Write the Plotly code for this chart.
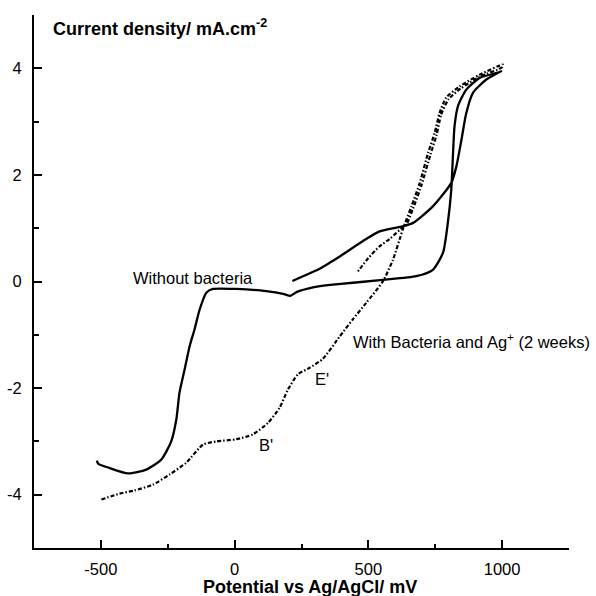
import plotly.graph_objects as go

# Cyclic polarisation curve without bacteria (forward sweep, then return sweep)
no_bact_v = [-515, -510, -467, -399, -330, -274, -237, -218, -206, -187, -168, -150,
             -131, -106, -81, 6, 118, 181, 208, 231, 293, 367, 554, 679, 741, 779,
             797, 810, 816, 822, 835, 866, 916, 991,
             997, 941, 891, 866, 848, 829, 810, 741, 667, 623, 542, 480, 393, 355, 318,
             243, 216]
no_bact_i = [-3.36, -3.42, -3.50, -3.60, -3.53, -3.34, -3.00, -2.59, -2.08, -1.65, -1.21, -0.90,
             -0.53, -0.21, -0.14, -0.14, -0.18, -0.23, -0.27, -0.20, -0.11, -0.06, 0.03, 0.10, 0.22, 0.54,
             1.10, 1.73, 2.35, 2.91, 3.29, 3.60, 3.82, 3.93,
             3.95, 3.79, 3.54, 3.16, 2.66, 2.16, 1.85, 1.41, 1.10, 1.03, 0.94, 0.76, 0.47, 0.35, 0.24,
             0.07, 0.01]

# Curve with bacteria and Ag+ after 2 weeks (forward sweep, then return sweep)
bact_v = [-498, -430, -374, -305, -243, -181, -118, -68, 6, 68, 125, 168, 199, 237, 280,
          330, 393, 442, 492, 554, 592, 629, 661, 692, 723, 748, 766, 791, 841, 916, 1003,
          1000, 916, 845, 800, 772, 755, 732, 700, 668, 640, 629, 580, 542, 500, 461]
bact_i = [-4.09, -3.98, -3.92, -3.81, -3.62, -3.40, -3.06, -3.00, -2.96, -2.87, -2.65, -2.37, -2.03, -1.74, -1.62,
          -1.45, -1.03, -0.71, -0.40, 0.00, 0.41, 0.98, 1.41, 1.85, 2.41, 2.79, 3.16, 3.45, 3.66, 3.88, 4.07,
          4.02, 3.84, 3.62, 3.42, 3.13, 2.75, 2.38, 1.83, 1.38, 1.05, 1.02, 0.80, 0.66, 0.44, 0.19]

x_ticks = [-500, 0, 500, 1000]
y_ticks = [-4, -2, 0, 2, 4]

FONT = "Liberation Sans, Arial, Helvetica, sans-serif"

fig = go.Figure()
fig.add_trace(go.Scatter(x=no_bact_v, y=no_bact_i, mode="lines",
                         line=dict(color="black", width=2.3, shape="spline", smoothing=0.6),
                         showlegend=False, hoverinfo="skip"))
fig.add_trace(go.Scatter(x=bact_v, y=bact_i, mode="lines",
                         line=dict(color="black", width=2.2, dash="4px,2px,1.5px,2px",
                                   shape="spline", smoothing=0.6),
                         showlegend=False, hoverinfo="skip"))

labels = [
    dict(x=-388, y=0.06, text="Without bacteria", xanchor="left"),
    dict(x=116, y=-3.06, text="B'", xanchor="center"),
    dict(x=326, y=-1.82, text="E'", xanchor="center"),
    dict(x=434, y=-1.12, text="With Bacteria and Ag<sup>+</sup> (2 weeks)", xanchor="left"),
]
for a in labels:
    fig.add_annotation(x=a["x"], y=a["y"], xref="x", yref="y", text=a["text"],
                       xanchor=a["xanchor"], yanchor="middle", showarrow=False,
                       font=dict(family=FONT, size=16.5, color="black"))

# Axis titles
fig.add_annotation(x=0.032, y=0.977, xref="paper", yref="paper",
                   text="<b>Current density/ mA.cm<sup>-2</sup></b>",
                   xanchor="left", yanchor="middle", showarrow=False,
                   font=dict(family=FONT, size=18, color="black"))
fig.add_annotation(x=0.516, y=-0.073, xref="paper", yref="paper",
                   text="<b>Potential vs Ag/AgCl/ mV</b>",
                   xanchor="center", yanchor="middle", showarrow=False,
                   font=dict(family=FONT, size=18, color="black"))

fig.update_xaxes(range=[-750, 1250], tickmode="array", tickvals=x_ticks,
                 ticktext=[str(t) for t in x_ticks], automargin=False,
                 ticks="inside", ticklen=8, tickwidth=1.5, tickcolor="black",
                 minor=dict(tickmode="linear", tick0=-750, dtick=250, ticks="inside",
                            ticklen=4, tickwidth=1.5, tickcolor="black", showgrid=False),
                 showline=True, linecolor="black", linewidth=2, showgrid=False,
                 zeroline=False, ticklabelstandoff=5,
                 tickfont=dict(family=FONT, size=16.5, color="black"))
fig.update_yaxes(range=[-5, 5], tickmode="array", tickvals=y_ticks,
                 ticktext=[str(t) for t in y_ticks], automargin=False,
                 ticks="inside", ticklen=8, tickwidth=1.5, tickcolor="black",
                 minor=dict(tickmode="linear", tick0=-5, dtick=1, ticks="inside",
                            ticklen=5, tickwidth=1.5, tickcolor="black", showgrid=False),
                 showline=True, linecolor="black", linewidth=2, showgrid=False,
                 zeroline=False, ticklabelstandoff=7,
                 tickfont=dict(family=FONT, size=16.5, color="black"))

fig.update_layout(width=596, height=596,
                  margin=dict(l=34, r=27, t=15, b=48),
                  paper_bgcolor="white", plot_bgcolor="white")

fig.write_html("out.html")
